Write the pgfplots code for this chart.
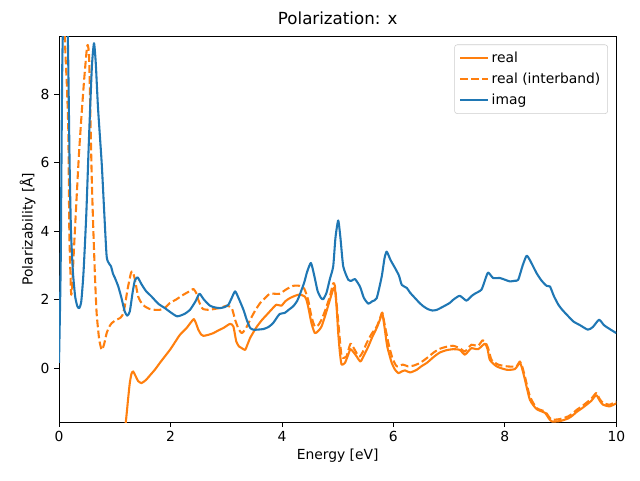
\documentclass[border=0pt]{standalone}
\usepackage{pgfplots}
\pgfplotsset{compat=1.18}
\usepackage{fontspec}
\setmainfont{DejaVu Sans}
\definecolor{mplorange}{HTML}{FF7F0E}
\definecolor{mplblue}{HTML}{1F77B4}
\begin{document}
\begin{tikzpicture}
\begin{axis}[
  at={(0,0)}, anchor=south west,
  scale only axis,
  width=418pt, height=289.5pt,
  xmin=0, xmax=10, ymin=-1.577, ymax=9.70,
  xtick={0,2,4,6,8,10}, ytick={0,2,4,6,8},
  tick align=outside, tick pos=left,
  major tick length=3.65pt,
  tick style={black, line width=0.6pt},
  axis line style={line width=0.6pt},
  font=\fontsize{10.4}{12}\selectfont,
  tick label style={font=\fontsize{10.4}{12}\selectfont},
  /pgf/number format/assume math mode=true,
  title={Polarization: x},
  title style={font=\fontsize{12.5}{14}\selectfont, yshift=-1pt},
  xlabel={Energy [eV]},
  ylabel={Polarizability [Å]},
  xlabel style={yshift=2pt},
  ylabel style={yshift=-3pt},
  legend cell align=left,
  legend style={at={(rel axis cs:0.985,0.978)}, anchor=north east,
    draw=black!20, rounded corners=2pt, font=\fontsize{10.4}{12}\selectfont,
    row sep=2.2pt, inner sep=3.5pt},
  legend image code/.code={\draw[#1] plot coordinates {(0cm,0cm) (0.73cm,0cm)};},
  every axis plot/.append style={line width=1.56pt, line join=round, smooth, tension=0.35},
]
\addplot[color=mplorange] table {
1.10 -3.0
1.20 -1.56
1.24 -0.90
1.27 -0.44
1.30 -0.17
1.33 -0.10
1.37 -0.22
1.42 -0.38
1.48 -0.44
1.56 -0.35
1.64 -0.20
1.72 -0.05
1.81 0.15
1.90 0.34
1.99 0.53
2.08 0.75
2.17 0.97
2.29 1.17
2.36 1.32
2.42 1.43
2.46 1.30
2.50 1.12
2.55 0.98
2.59 0.94
2.68 0.97
2.77 1.02
2.86 1.10
2.95 1.17
3.07 1.29
3.13 1.21
3.18 0.78
3.23 0.63
3.28 0.58
3.34 0.53
3.38 0.68
3.43 0.88
3.49 1.05
3.55 1.21
3.64 1.40
3.73 1.56
3.82 1.72
3.90 1.85
3.99 1.82
4.06 1.95
4.14 2.04
4.22 2.10
4.29 2.14
4.36 2.13
4.41 2.09
4.44 1.99
4.47 1.80
4.53 1.31
4.59 1.02
4.65 1.08
4.71 1.21
4.78 1.55
4.86 1.99
4.92 2.30
4.95 2.34
4.98 1.80
5.01 1.02
5.04 0.45
5.07 0.10
5.13 0.15
5.18 0.35
5.23 0.55
5.29 0.45
5.34 0.34
5.41 0.19
5.48 0.40
5.55 0.63
5.62 0.90
5.70 1.17
5.76 1.42
5.80 1.61
5.84 1.20
5.89 0.63
5.97 0.15
6.03 -0.05
6.09 -0.15
6.15 -0.10
6.21 -0.07
6.30 -0.13
6.42 -0.05
6.50 0.05
6.60 0.15
6.72 0.32
6.83 0.45
6.95 0.52
7.07 0.55
7.19 0.53
7.28 0.39
7.34 0.48
7.40 0.58
7.52 0.55
7.64 0.71
7.69 0.55
7.73 0.24
7.85 0.05
8.03 -0.05
8.18 -0.03
8.27 0.15
8.31 -0.02
8.36 -0.34
8.45 -0.93
8.57 -1.20
8.72 -1.31
8.78 -1.45
8.84 -1.56
8.99 -1.55
9.14 -1.47
9.22 -1.38
9.29 -1.28
9.38 -1.18
9.46 -1.08
9.55 -0.96
9.64 -0.79
9.70 -0.95
9.76 -1.07
9.88 -1.12
10.0 -1.03
};
\addlegendentry{real}
\addplot[color=mplorange, dash pattern=on 5.8pt off 2.5pt] table {
0.00 12.5
0.06 14.0
0.105 9.7
0.14 8.3
0.167 6.96
0.185 4.04
0.21 2.48
0.22 2.14
0.235 2.30
0.256 3.07
0.285 4.0
0.317 5.01
0.36 6.3
0.407 7.45
0.45 8.4
0.497 9.29
0.515 9.44
0.54 9.10
0.568 6.96
0.59 5.4
0.616 4.04
0.645 2.7
0.675 1.61
0.72 0.85
0.766 0.53
0.81 0.70
0.855 1.02
0.90 1.20
0.945 1.31
1.02 1.40
1.094 1.46
1.14 1.55
1.18 1.80
1.23 2.30
1.29 2.77
1.32 2.82
1.36 2.60
1.42 2.09
1.48 1.90
1.54 1.80
1.62 1.73
1.72 1.70
1.81 1.70
1.90 1.76
1.99 1.90
2.10 2.00
2.23 2.14
2.35 2.25
2.41 2.31
2.46 2.20
2.50 1.99
2.55 1.80
2.59 1.72
2.68 1.70
2.77 1.72
2.90 1.76
3.01 1.82
3.10 1.75
3.16 1.41
3.22 1.15
3.28 1.02
3.35 1.15
3.43 1.41
3.52 1.68
3.61 1.90
3.70 2.05
3.78 2.17
3.87 2.17
3.96 2.17
4.08 2.30
4.20 2.40
4.32 2.40
4.40 2.32
4.47 1.99
4.53 1.50
4.59 1.21
4.65 1.25
4.71 1.41
4.78 1.70
4.86 2.09
4.92 2.48
4.95 2.40
4.98 1.90
5.03 1.00
5.07 0.34
5.12 0.30
5.16 0.34
5.23 0.71
5.30 0.55
5.36 0.38
5.40 0.34
5.46 0.50
5.52 0.73
5.61 1.00
5.70 1.21
5.76 1.45
5.80 1.62
5.84 1.30
5.91 0.73
5.98 0.30
6.06 0.05
6.17 0.10
6.26 0.05
6.36 0.07
6.48 0.15
6.60 0.29
6.72 0.45
6.83 0.56
6.95 0.62
7.07 0.65
7.19 0.58
7.28 0.48
7.34 0.58
7.40 0.68
7.52 0.65
7.60 0.81
7.65 0.75
7.70 0.58
7.76 0.24
7.88 0.10
8.03 0.05
8.15 0.04
8.21 0.05
8.27 0.19
8.31 0.05
8.36 -0.25
8.45 -0.83
8.57 -1.17
8.72 -1.27
8.78 -1.40
8.84 -1.51
8.99 -1.49
9.14 -1.41
9.22 -1.32
9.29 -1.22
9.38 -1.12
9.46 -1.02
9.55 -0.90
9.64 -0.73
9.70 -0.90
9.76 -1.02
9.88 -1.07
10.0 -0.98
};
\addlegendentry{real (interband)}
\addplot[color=mplblue] table {
0.0 0.15
0.03 3.0
0.06 9.0
0.11 12.0
0.16 9.5
0.19 6.0
0.215 4.0
0.25 2.8
0.29 2.09
0.33 1.80
0.364 1.75
0.40 1.95
0.44 2.8
0.49 4.5
0.54 6.8
0.59 8.8
0.628 9.49
0.66 8.9
0.70 7.6
0.766 5.99
0.81 4.6
0.855 3.26
0.90 3.05
0.933 2.97
0.97 2.75
1.004 2.63
1.064 2.38
1.12 2.05
1.18 1.65
1.225 1.53
1.27 1.65
1.32 2.2
1.36 2.55
1.41 2.65
1.48 2.45
1.56 2.25
1.66 2.09
1.78 1.88
1.90 1.75
2.00 1.63
2.12 1.51
2.25 1.58
2.35 1.70
2.45 1.95
2.52 2.17
2.60 2.00
2.71 1.82
2.80 1.77
2.89 1.75
2.97 1.78
3.04 1.85
3.10 2.05
3.16 2.24
3.22 2.05
3.31 1.70
3.37 1.40
3.43 1.17
3.49 1.12
3.55 1.12
3.67 1.14
3.76 1.20
3.84 1.31
3.90 1.45
3.96 1.58
4.05 1.61
4.12 1.70
4.20 1.80
4.27 1.95
4.32 2.14
4.40 2.50
4.45 2.80
4.52 3.07
4.58 2.70
4.64 2.25
4.70 2.05
4.74 2.01
4.80 2.20
4.86 2.60
4.92 2.97
4.96 3.80
5.01 4.31
5.05 3.80
5.10 2.97
5.19 2.58
5.25 2.55
5.31 2.60
5.40 2.38
5.47 2.05
5.55 1.88
5.62 1.95
5.70 2.04
5.79 2.67
5.84 3.20
5.88 3.40
5.95 3.15
6.03 2.92
6.10 2.70
6.15 2.43
6.24 2.34
6.30 2.20
6.39 2.04
6.47 1.90
6.54 1.80
6.62 1.72
6.70 1.68
6.78 1.70
6.90 1.80
7.01 1.90
7.07 1.99
7.19 2.11
7.31 1.97
7.40 2.10
7.46 2.17
7.58 2.29
7.65 2.60
7.70 2.79
7.79 2.63
7.91 2.63
8.00 2.58
8.09 2.53
8.18 2.55
8.24 2.58
8.32 3.00
8.39 3.28
8.45 3.15
8.57 2.77
8.66 2.55
8.75 2.40
8.81 2.38
8.88 2.10
8.96 1.85
9.03 1.70
9.11 1.56
9.23 1.36
9.35 1.25
9.49 1.12
9.58 1.20
9.69 1.41
9.78 1.25
9.90 1.12
10.0 1.02
};
\addlegendentry{imag}
\end{axis}
\path (-44.25pt,-43.5pt) rectangle (435.75pt,316.5pt);
\end{tikzpicture}
\end{document}
